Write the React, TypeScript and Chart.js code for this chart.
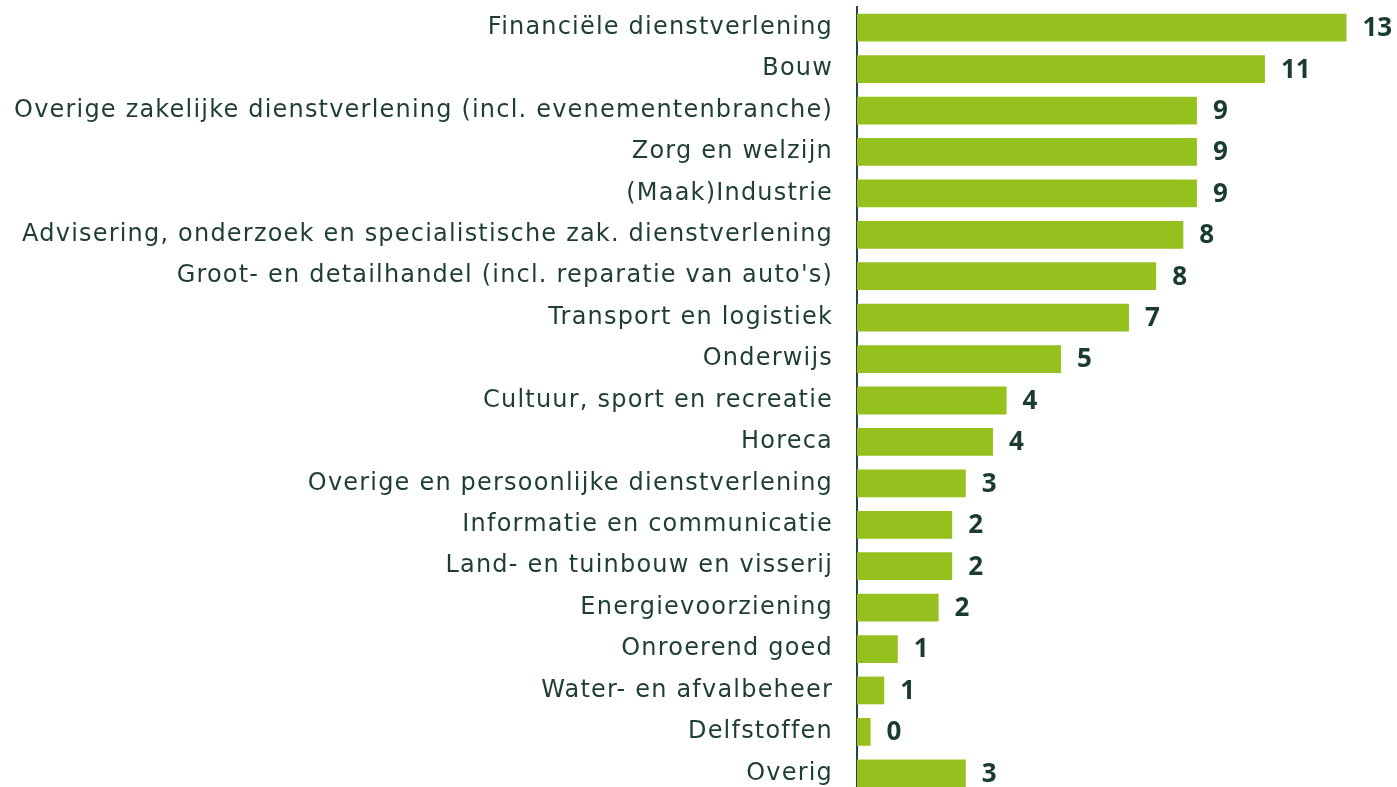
import React, { useEffect, useRef } from "react";
import { Chart, registerables } from "chart.js";

Chart.register(...registerables);

const categories: string[] = [
  "Financiële dienstverlening",
  "Bouw",
  "Overige zakelijke dienstverlening (incl. evenementenbranche)",
  "Zorg en welzijn",
  "(Maak)Industrie",
  "Advisering, onderzoek en specialistische zak. dienstverlening",
  "Groot- en detailhandel (incl. reparatie van auto's)",
  "Transport en logistiek",
  "Onderwijs",
  "Cultuur, sport en recreatie",
  "Horeca",
  "Overige en persoonlijke dienstverlening",
  "Informatie en communicatie",
  "Land- en tuinbouw en visserij",
  "Energievoorziening",
  "Onroerend goed",
  "Water- en afvalbeheer",
  "Delfstoffen",
  "Overig",
];

const values: number[] = [
  12.6, 10.5, 8.75, 8.75, 8.75, 8.4, 7.7, 7.0, 5.25, 3.85, 3.5, 2.8, 2.45, 2.45,
  2.1, 1.05, 0.7, 0.35, 2.8,
];

const valueLabels: string[] = [
  "13", "11", "9", "9", "9", "8", "8", "7", "5", "4", "4", "3", "2", "2", "2",
  "1", "1", "0", "3",
];

const BAR_COLOR = "#95c11f";
const TEXT_COLOR = "#1f3d37";
const LABEL_COLOR = "#1a3b33";

const spacingPlugin = {
  id: "letterSpacing",
  beforeDraw(chart: any) {
    chart.ctx.letterSpacing = "1.2px";
  },
  afterDraw(chart: any) {
    chart.ctx.letterSpacing = "0px";
  },
};

const dataLabelPlugin = {
  id: "barValueLabels",
  afterDatasetsDraw(chart: any) {
    const ctx = chart.ctx;
    const meta = chart.getDatasetMeta(0);
    ctx.save();
    ctx.letterSpacing = "0px";
    ctx.font = "bold 26px 'Open Sans', sans-serif";
    ctx.fillStyle = LABEL_COLOR;
    ctx.textAlign = "left";
    ctx.textBaseline = "middle";
    meta.data.forEach((bar: any, i: number) => {
      ctx.fillText(valueLabels[i], bar.x + 16, bar.y + 1);
    });
    ctx.restore();
  },
};

export default function App() {
  const canvasRef = useRef<HTMLCanvasElement | null>(null);

  useEffect(() => {
    if (!canvasRef.current) return;
    const chart = new Chart(canvasRef.current, {
      type: "bar",
      data: {
        labels: categories,
        datasets: [
          {
            data: values,
            backgroundColor: BAR_COLOR,
            borderWidth: 0,
            barPercentage: 0.67,
            categoryPercentage: 1,
          },
        ],
      },
      options: {
        indexAxis: "y",
        animation: false,
        responsive: true,
        maintainAspectRatio: false,
        layout: { padding: { top: 7, left: 0, right: 0, bottom: 0 } },
        plugins: {
          legend: { display: false },
          tooltip: { enabled: false },
        },
        scales: {
          x: {
            display: false,
            min: 0,
            max: 13.9,
          },
          y: {
            afterFit(scale: any) {
              scale.width = 857;
              scale.paddingTop = 0;
              scale.paddingBottom = 0;
            },
            grid: { display: true, drawOnChartArea: false, drawTicks: false },
            border: { display: true, color: "#244540", width: 2 },
            ticks: {
              padding: 24,
              color: TEXT_COLOR,
              font: { family: "'DejaVu Sans', sans-serif", size: 24, weight: "normal" },
            },
          },
        },
      },
      plugins: [spacingPlugin, dataLabelPlugin],
    });
    return () => chart.destroy();
  }, []);

  return (
    <div style={{ position: "absolute", left: 0, top: 0, width: 1397, height: 794 }}>
      <canvas ref={canvasRef} />
    </div>
  );
}
